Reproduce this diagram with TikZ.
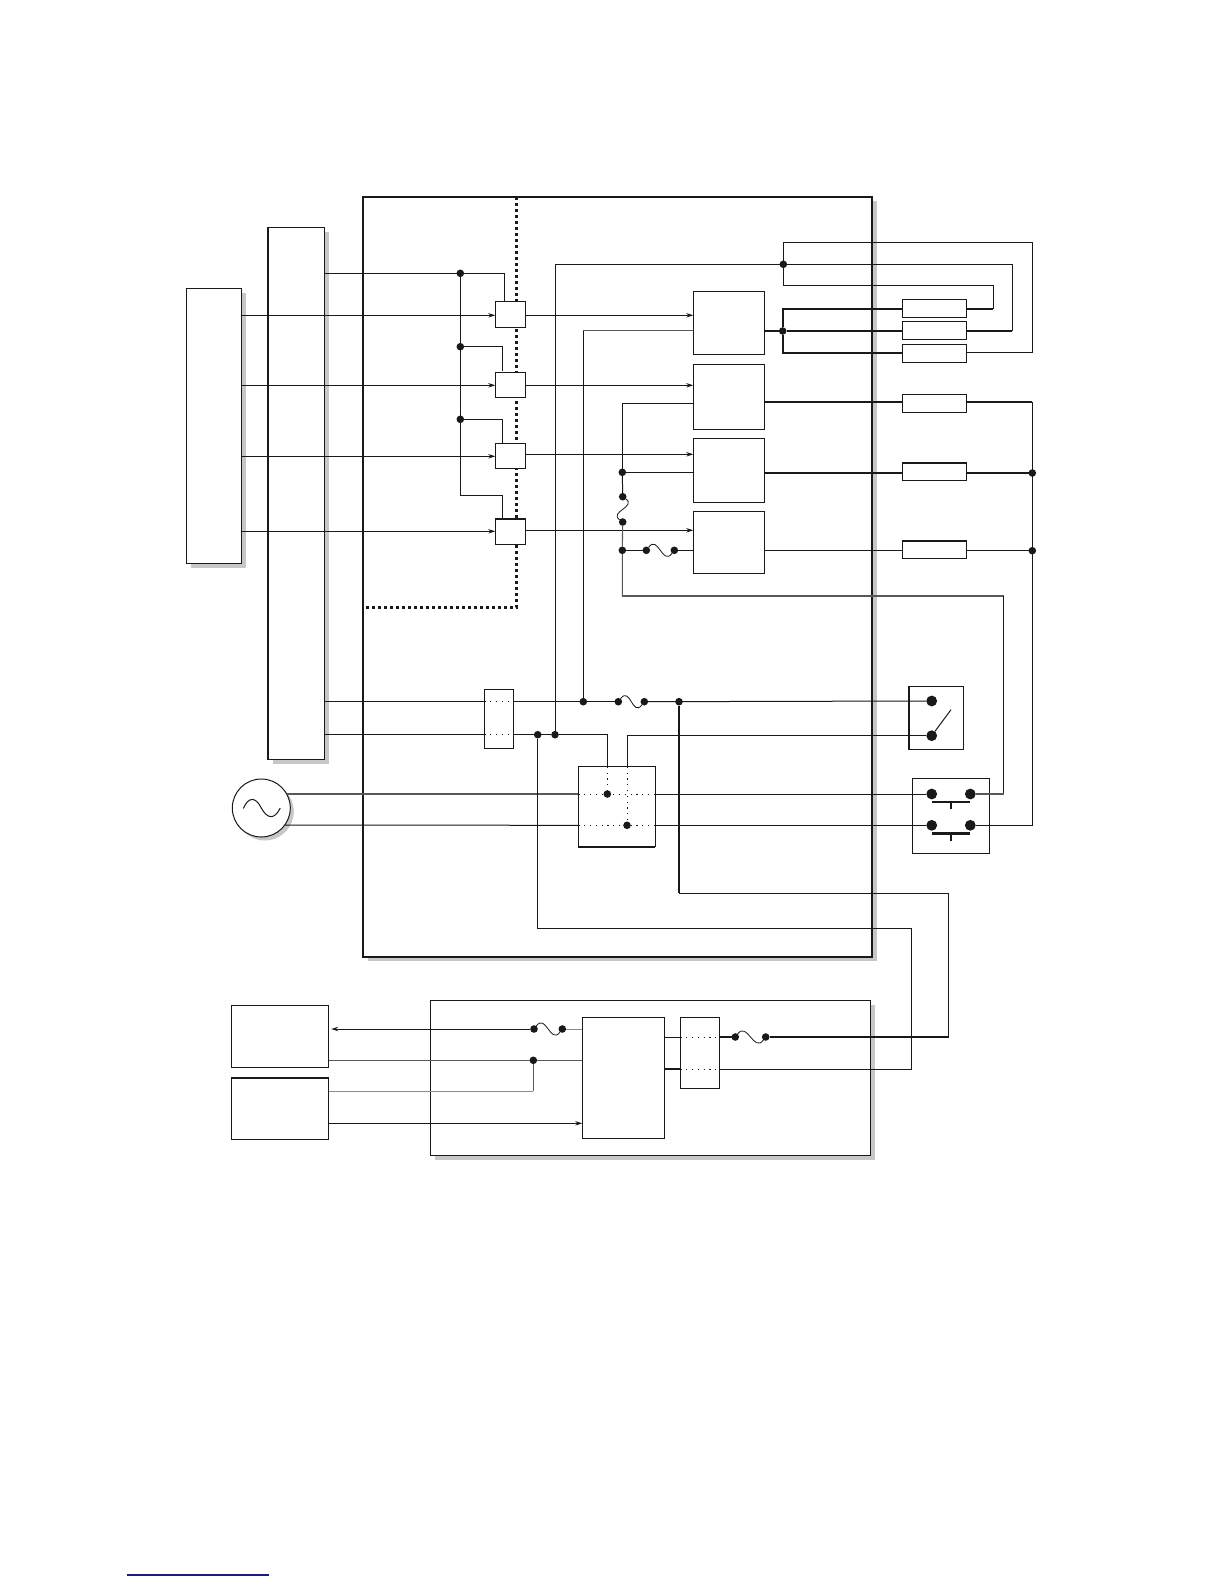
\documentclass[tikz,border=0pt]{standalone}
\usepackage{xcolor}
\usepackage{tikz}
\usetikzlibrary{arrows.meta,shadows}
\definecolor{linkblue}{RGB}{26,26,140}
\tikzset{
    wh/.style 2 args={minimum width=#1pt,minimum height=#2pt},
    blk/.style={rectangle,draw=black!90,fill=white,line width=1pt,inner sep=0,outer sep=0,anchor=north west},
    shade/.style={general shadow={shadow xshift=4.5pt,shadow yshift=-4.5pt,fill=black!22}},
    jn/.style={circle,fill=black!90,inner sep=0,outer sep=0,minimum size=7.6pt},
    cnt/.style={jn,minimum size=10.8pt},
    wire/.style={draw=black!90,line width=1pt},
    wireg/.style={draw=black!65,line width=1.1pt},
    hvy/.style={draw=black!90,line width=1.8pt},
    pto/.style={-{Stealth[length=7pt,width=4.4pt]}},
    dotw/.style={draw=black!90,line width=1pt,dash pattern=on 1.2pt off 4.6pt},
    wave/.style={draw=black!90,line width=.8pt,to path={.. controls +(12,-16) and +(-12,16) .. (\tikztotarget)}}
}
\begin{document}
\begin{tikzpicture}[x=1pt,y=-1pt]
    \useasboundingbox (0,0) rectangle (1224,1584);

    % outer blocks
    \node[blk,shade,wh={509}{760},line width=1.8pt] (mainbox) at (363,196.7) {};
    \node[blk,shade,wh={54.6}{275.6}] (ctlA) at (186.7,288) {};
    \node[blk,shade,wh={56.7}{532},line width=1.2pt] (busB) at (268,227.3) {};
    \node[blk,shade,wh={440.4}{155}] (ebox) at (430.3,1000.3) {};
    \node[circle,draw=black!90,fill=white,line width=1pt,inner sep=0,outer sep=0,minimum size=58pt,
        general shadow={shadow xshift=3.5pt,shadow yshift=-3.5pt,fill=black!22}] (acsrc) at (261.3,808) {};
    \draw[wire,shift={(acsrc.center)}] (-18,0.5) .. controls (-13,-11) and (-6,-12) .. (0,0) .. controls (6,11) and (13,12) .. (19,0);

    % dotted boundary
    \coordinate (dtop) at (516.3,197);
    \coordinate (dbot) at (516.3,607.3);
    \coordinate (dend) at (366,607.3);
    \draw[draw=black!90,line width=2.8pt,dash pattern=on 2.8pt off 3.2pt] (dtop) -- (dbot) -- (dend);

    % inner blocks
    \foreach \n/\y/\h in {1/301.3/26,2/372.3/25,3/443.3/25.4,4/518.7/25.6}
        \node[blk,wh={30.4}{\h}] (gate\n) at (495.3,\y) {};
    \foreach \n/\y/\h in {1/291.3/63,2/364.3/65,3/438.3/64,4/511.3/62}
        \node[blk,wh={71}{\h}] (drv\n) at (693.3,\y) {};
    \foreach \n/\y in {1/299.3,2/321.3,3/344.3,4/394.3,5/462.7,6/540.7}
        \node[blk,wh={64.4}{18}] (res\n) at (902.3,\y) {};
    \node[blk,wh={29}{59}] (pass) at (484.3,689.3) {};
    \node[blk,wh={77}{80}] (tie) at (578.3,766.7) {};
    \node[blk,wh={54.6}{63}] (swa) at (908.7,686.3) {};
    \node[blk,wh={77.4}{75}] (swb) at (912.3,778.3) {};
    \node[blk,wh={82.4}{121}] (ctl) at (582.3,1017.3) {};
    \node[blk,wh={39.4}{71}] (relay) at (680.3,1017.3) {};
    \node[blk,wh={97.4}{62}] (hosta) at (231.3,1005.3) {};
    \node[blk,wh={97.4}{61.3}] (hostb) at (231.3,1078) {};

    % heavier edges
    \draw[line width=2.2pt,draw=black!90] (busB.north west) -- (busB.south west);
    \draw[line width=1.6pt,draw=black!90] (gate4.north west) -- (gate4.north east);
    \draw[line width=1.6pt,draw=black!90] (res2.south west) -- (res2.south east);
    \draw[line width=1.6pt,draw=black!90] (res5.north west) -- (res5.north east);
    \draw[line width=1.6pt,draw=black!90] (res6.north west) -- (res6.north east);
    \draw[line width=1.6pt,draw=black!90] (tie.south west) -- (tie.south east);
    \draw[line width=1.6pt,draw=black!90] (swa.north west) -- (swa.south west);
    \draw[line width=1.6pt,draw=black!90] (hostb.north west) -- (hostb.north east);

    % junctions
    \foreach \n/\x/\y in {b1/460.3/273.3,b2/460.3/346.7,b3/460.3/419.3,
        k1/783.3/264.3,d1/782.7/331,j1/555/734.7,j2/583.3/701.7,j3/622.3/472.3,j4/622.7/496.7,
        j5/622.7/522,j6/622.3/550.3,f1/646.3/550.3,f2/674.3/550.3,f3/618.3/701.7,f4/644.3/701.7,
        j7/679/701.7,j8/537.7/734.7,q1/607.3/794,q2/627/825.3,r5/1032.3/473,r6/1032.3/550.7,
        f5/735.3/1037,f6/765.7/1037,f7/562.3/1029,f8/534/1029,j9/533.3/1060.3}
        \node[jn] (\n) at (\x,\y) {};
    \foreach \n/\x/\y in {e1/931.7/794,e2/970.3/794,e3/931.7/825.3,e4/970.3/825.3,e5/931.7/701,e6/931.7/735.7}
        \node[cnt] (\n) at (\x,\y) {};

    % corners
    \foreach \n/\x/\y in {t1/504.3/301.3,t2/502.7/371,t3/502.7/443.3,t4/502.7/518.7,bb/460.3/495.3,
        c1/993.3/308.7,c2/1012.3/330.7,c3/1032.3/352.7,c4/783.3/242.3,c5/783.3/285.7,c6/583.3/330.7,
        c7/1003.7/794,c8/622.3/596,c9/1032.3/401.7,c10/1032.3/825.3,c11/679/893,c12/948.7/1037,
        c13/911.7/1069.3,c14/537.7/928,c15/533.3/1091.3,c16/622.3/403.3,bl/951/709.7}
        \coordinate (\n) at (\x,\y);

    % control lines
    \foreach \g/\y in {1/315.3,2/385.3,3/456.3,4/531.3}
        \draw[wire,pto] (ctlA.east |- 0,\y) -- (gate\g.west |- 0,\y);
    \foreach \g/\y in {1/315.3,2/385.3,3/454.3,4/530.3}
        \draw[wire,pto] (gate\g.east |- 0,\y) -- (drv\g.west |- 0,\y);
    \draw[wire] (busB.east |- b1) -- (b1) -| (t1);
    \draw[wire] (b1) -- (bb) -| (t4);
    \draw[wire] (b2) -| (t2);
    \draw[wire] (b3) -| (t3);

    % drivers to loads
    \draw[hvy] (drv1.east |- d1) -- (d1) -- (res2.west |- d1);
    \draw[hvy] (res1.west |- c1) -| (d1) |- (res3.west |- c3);
    \draw[hvy] (res1.east |- c1) -- (c1);
    \draw[hvy] (res2.east |- c2) -- (c2);
    \draw[wire] (c1) |- (c5) -- (c4) -| (c3) -- (res3.east |- c3);
    \draw[wire] (j1) |- (k1) -| (c2);
    \draw[hvy] (drv2.east |- c9) -- (res4.west |- c9);
    \draw[hvy] (res4.east |- c9) -- (c9);
    \draw[wire] (c9) -- (c10) -- (e4);
    \draw[hvy] (drv3.east |- r5) -- (res5.west |- r5);
    \draw[hvy] (res5.east |- r5) -- (r5);
    \draw[wire] (drv4.east |- r6) -- (res6.west |- r6);
    \draw[wire] (res6.east |- r6) -- (r6);

    % feeds to drivers
    \draw[wire] (j2) -- (c6);
    \draw[wireg] (c6) -- (drv1.west |- c6);
    \draw[wire] (j3) |- (drv2.west |- c16);
    \draw[wire] (j3) -- (drv3.west |- j3);
    \draw[wire] (j3) -- (j4);
    \draw[draw=black!90,line width=.8pt] (j4) .. controls +(14,10) and +(-14,-10) .. (j5);
    \draw[wireg] (j5) -- (j6) -- (c8);
    \draw[wireg] (c8) -- (c8 -| c7);
    \draw[wire] (c8 -| c7) -- (c7);
    \draw[wireg] (c7) -- (e2);
    \draw[wire] (j6) -- (f1);
    \path[wave] (f1) to (f2);
    \draw[wire] (f2) -- (drv4.west |- f2);

    % supply rails
    \draw[wire] (busB.east |- j2) -- (pass.west |- j2);
    \draw[dotw] (pass.west |- j2) -- (pass.east |- j2);
    \draw[wire] (pass.east |- j2) -- (f3);
    \path[wave] (f3) to (f4);
    \draw[wire] (f4) -- (e5);
    \draw[wire] (busB.east |- j8) -- (pass.west |- j8);
    \draw[dotw] (pass.west |- j8) -- (pass.east |- j8);
    \draw[wire] (pass.east |- j8) -- (j1) -| (q1 |- tie.north);
    \draw[dotw] (q1 |- tie.north) -- (q1);
    \draw[wire] (q2 |- tie.north) |- (e6);
    \draw[dotw] (q2 |- tie.north) -- (q2);
    \draw[wireg] (acsrc.29) -- (tie.west |- acsrc.29);
    \draw[wire] (acsrc.-36.6) -- (tie.west |- q2);
    \draw[dotw] (tie.west |- q1) -- (tie.east |- q1);
    \draw[dotw] (tie.west |- q2) -- (tie.east |- q2);
    \draw[wire] (tie.east |- e1) -- (e1);
    \draw[wire] (tie.east |- e3) -- (e3);

    % contacts
    \draw[wire] (e6) -- (bl);
    \draw[draw=black!90,line width=1.7pt] (e1 |- 0,802) -- (e2 |- 0,802);
    \draw[draw=black!90,line width=1.3pt] (951,802) -- (951,809.3);
    \draw[draw=black!90,line width=2.5pt] (e3 |- 0,833.7) -- (e4 |- 0,833.7);
    \draw[draw=black!90,line width=1.3pt] (951,833.7) -- (951,840.7);

    % lower unit
    \draw[hvy] (j7) -- (c11);
    \draw[wire] (c11) -| (c12);
    \draw[hvy] (c12) -- (f6);
    \path[wave] (f5) to (f6);
    \draw[hvy] (relay.east |- f5) -- (f5);
    \draw[wire] (ctl.east |- 0,1037.3) -- (relay.west |- 0,1037.3);
    \draw[dotw] (relay.west |- 0,1037.3) -- (relay.east |- 0,1037.3);
    \draw[hvy] (ctl.east |- c13) -- (relay.west |- c13);
    \draw[dotw,line width=1.5pt] (relay.west |- c13) -- (relay.east |- c13);
    \draw[wire] (j8) -- (c14) -| (c13) -- (relay.east |- c13);
    \draw[draw=black!45,line width=1pt] (ctl.west |- f7) -- (f7);
    \path[wave] (f8) to (f7);
    \draw[wire,pto,shorten >=2.5pt] (f8) -- (hosta.east |- f8);
    \draw[wireg] (hosta.east |- j9) -- (j9) -- (ctl.west |- j9);
    \draw[draw=black!65,line width=.9pt] (j9) -- (c15);
    \draw[draw=black!45,line width=1pt] (c15) -- (hostb.east |- c15);
    \draw[wire,pto] (hostb.east |- 0,1123.3) -- (ctl.west |- 0,1123.3);

    % rule at the page foot
    \coordinate (rulea) at (127,1575);
    \coordinate (ruleb) at (269,1575);
    \draw[draw=linkblue,line width=1.2pt] (rulea) -- (ruleb);
\end{tikzpicture}
\end{document}
